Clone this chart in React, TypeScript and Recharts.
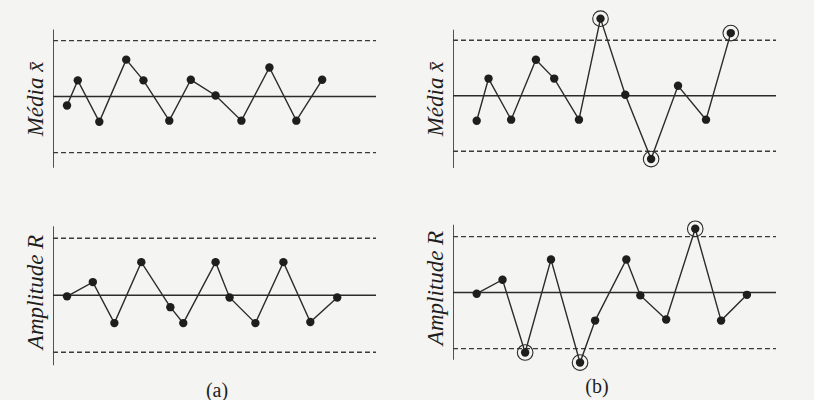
import React from 'react'
import { LineChart, Line, XAxis, YAxis, ReferenceLine } from 'recharts'

// sample positions (time) and values, normalised so that the control limits sit at +1 / -1
const xMeanA = [1.3, 2.3, 4.3, 6.8, 8.4, 10.8, 12.8, 15.1, 17.5, 20.1, 22.6, 25.0]
const meanA = [-0.16, 0.29, -0.45, 0.66, 0.29, -0.43, 0.3, 0.02, -0.43, 0.52, -0.43, 0.3]
const outMeanA: number[] = []

const xRangeA = [1.3, 3.7, 5.7, 8.2, 10.9, 12.1, 15.1, 16.4, 18.8, 21.4, 23.9, 26.4]
const rangeA = [-0.02, 0.23, -0.49, 0.58, -0.21, -0.49, 0.58, -0.04, -0.49, 0.58, -0.47, -0.04]
const outRangeA: number[] = []

const xMeanB = [2.2, 3.3, 5.4, 7.7, 9.4, 11.7, 13.7, 16.0, 18.4, 20.9, 23.5, 25.8]
const meanB = [-0.45, 0.31, -0.43, 0.65, 0.31, -0.43, 1.39, 0.02, -1.14, 0.18, -0.43, 1.13]
const outMeanB = [6, 8, 11]

const xRangeB = [2.2, 4.6, 6.7, 9.1, 11.8, 13.2, 16.1, 17.4, 19.8, 22.5, 24.9, 27.3]
const rangeB = [-0.02, 0.23, -1.07, 0.59, -1.25, -0.5, 0.59, -0.05, -0.48, 1.14, -0.5, -0.04]
const outRangeB = [2, 4, 9]

const limits = { ucl: 1, cl: 0, lcl: -1 }
const ink = '#2b2b2b'

const PointDot = (props: any) => {
  const { cx, cy, payload, index } = props
  return (
    <g key={`d-${index}`}>
      <circle cx={cx} cy={cy} r={4.2} fill="#1e1e1e" />
      {payload.out && <circle cx={cx} cy={cy} r={7.8} fill="none" stroke={ink} strokeWidth={1.1} />}
    </g>
  )
}

const Panel = ({ left, center, scale, xs, ys, outs, axisTop, axisBottom }: any) => {
  const data = xs.map((x: number, i: number) => ({ x, v: ys[i], out: outs.includes(i) }))
  const height = 3.2 * scale
  return (
    <div style={{ position: 'absolute', left, top: center - 1.6 * scale }}>
      <LineChart width={323} height={height} data={data} margin={{ top: 0, right: 0, bottom: 0, left: 0 }}>
        <XAxis type="number" dataKey="x" domain={[0, 30]} hide />
        <YAxis type="number" domain={[-1.6, 1.6]} hide />
        <ReferenceLine segment={[{ x: 0, y: axisBottom }, { x: 0, y: axisTop }]} stroke={ink} strokeWidth={1.6} />
        <ReferenceLine y={limits.ucl} stroke="#3a3a3a" strokeWidth={1.4} strokeDasharray="5 3" />
        <ReferenceLine y={limits.cl} stroke={ink} strokeWidth={1.5} />
        <ReferenceLine y={limits.lcl} stroke="#3a3a3a" strokeWidth={1.4} strokeDasharray="5 3" />
        <Line type="linear" dataKey="v" stroke={ink} strokeWidth={1.4} dot={PointDot} isAnimationActive={false} />
      </LineChart>
    </div>
  )
}

const labelFont = { fontFamily: '"Liberation Serif", serif', fontStyle: 'italic', fontSize: 23, fill: '#1e1e1e' }
const capFont = { fontFamily: '"Liberation Serif", serif', fontSize: 20, fill: '#1e1e1e' }

export default function App() {
  return (
    <div style={{ position: 'absolute', left: 0, top: 0, width: 814, height: 400, background: '#f4f4f2', overflow: 'hidden' }}>
      <Panel left={53} center={97} scale={56} xs={xMeanA} ys={meanA} outs={outMeanA} axisTop={1.2} axisBottom={-1.27} />
      <Panel left={53} center={295} scale={57} xs={xRangeA} ys={rangeA} outs={outRangeA} axisTop={1.21} axisBottom={-1.23} />
      <Panel left={453} center={96} scale={55.5} xs={xMeanB} ys={meanB} outs={outMeanB} axisTop={1.19} axisBottom={-1.3} />
      <Panel left={453} center={293} scale={56} xs={xRangeB} ys={rangeB} outs={outRangeB} axisTop={1.21} axisBottom={-1.2} />
      <svg width={814} height={400} style={{ position: 'absolute', left: 0, top: 0, pointerEvents: 'none' }}>
        <text x={43} y={99} textAnchor="middle" transform="rotate(-90 43 99)" style={labelFont}>
          {'Média x\u0304'}
        </text>
        <text x={43} y={292} textAnchor="middle" transform="rotate(-90 43 292)" style={labelFont}>
          Amplitude R
        </text>
        <text x={443} y={99} textAnchor="middle" transform="rotate(-90 443 99)" style={labelFont}>
          {'Média x\u0304'}
        </text>
        <text x={443} y={288} textAnchor="middle" transform="rotate(-90 443 288)" style={labelFont}>
          Amplitude R
        </text>
        <text x={217} y={397} textAnchor="middle" style={capFont}>(a)</text>
        <text x={597} y={393} textAnchor="middle" style={capFont}>(b)</text>
      </svg>
    </div>
  )
}
